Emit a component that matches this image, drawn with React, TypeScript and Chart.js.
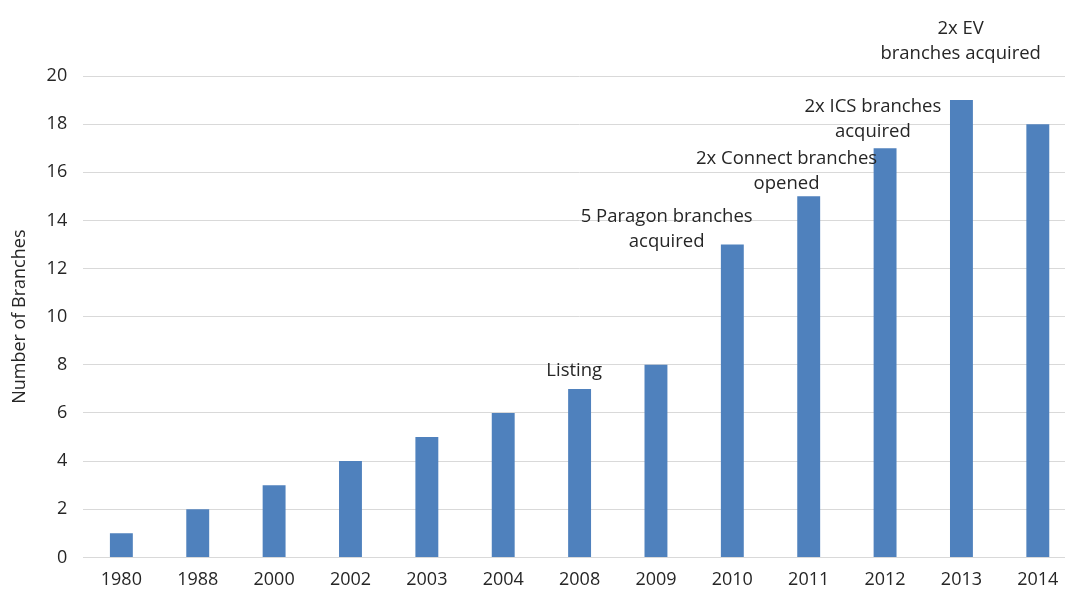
import React, { useEffect, useRef } from "react";
import { Chart, registerables } from "chart.js";

Chart.register(...registerables);

const categories = ["1980", "1988", "2000", "2002", "2003", "2004", "2008", "2009", "2010", "2011", "2012", "2013", "2014"];
const branchCounts = [1, 2, 3, 4, 5, 6, 7, 8, 13, 15, 17, 19, 18];
const yTicks = [0, 2, 4, 6, 8, 10, 12, 14, 16, 18, 20];

const annotationLines = [
  ["Listing"],
  ["5 Paragon branches", "acquired"],
  ["2x Connect branches", "opened"],
  ["2x ICS branches", "acquired"],
  ["2x EV", "branches acquired"],
];
// position in category-index units and value units (baseline of the last line)
const annotationX = [5.93, 7.14, 8.71, 9.84, 10.99];
const annotationY = [7.54, 12.88, 15.3, 17.46, 20.71];

const FONT = "'Open Sans', sans-serif";

const annotationPlugin = {
  id: "annotations",
  afterDatasetsDraw(chart: any) {
    const { ctx, scales } = chart;
    const xs = scales.x;
    const ys = scales.y;
    ctx.save();
    ctx.fillStyle = "#262626";
    ctx.font = `18.5px ${FONT}`;
    ctx.textAlign = "center";
    ctx.textBaseline = "alphabetic";
    annotationLines.forEach((lines, i) => {
      const x = xs.getPixelForValue(annotationX[i]);
      const yBase = ys.getPixelForValue(annotationY[i]);
      const n = lines.length;
      lines.forEach((line, j) => {
        ctx.fillText(line, x, yBase - (n - 1 - j) * 25);
      });
    });
    ctx.restore();
  },
};

export default function App() {
  const ref = useRef<HTMLCanvasElement | null>(null);
  useEffect(() => {
    document.body.style.margin = "0";
    const chart = new Chart(ref.current as HTMLCanvasElement, {
      type: "bar",
      data: {
        labels: categories,
        datasets: [
          {
            data: branchCounts,
            backgroundColor: "#4F81BD",
            borderWidth: 0,
            barPercentage: 0.3,
            categoryPercentage: 1,
          },
        ],
      },
      options: {
        responsive: false,
        animation: false,
        layout: { padding: { top: 76, left: 9, right: 0, bottom: 0 } },
        plugins: {
          legend: { display: false },
          tooltip: { enabled: false },
        },
        scales: {
          x: {
            grid: { display: false, drawTicks: false },
            border: { display: true, color: "#D9D9D9" },
            ticks: { color: "#262626", font: { family: FONT, size: 18 }, padding: 12, maxRotation: 0, autoSkip: false },
          },
          y: {
            min: 0,
            max: 20,
            afterBuildTicks: (axis: any) => {
              axis.ticks = yTicks.map((v) => ({ value: v }));
            },
            grid: { color: "#D9D9D9", drawTicks: false },
            border: { display: false },
            ticks: { color: "#262626", font: { family: FONT, size: 18 }, padding: 16 },
            title: {
              display: true,
              text: "Number of Branches",
              color: "#262626",
              font: { family: FONT, size: 18 },
              padding: { top: 0, bottom: 0 },
            },
          },
        },
      },
      plugins: [annotationPlugin],
    });
    return () => chart.destroy();
  }, []);
  return (
    <div style={{ position: "fixed", left: 0, top: 0, width: 1065, height: 592, overflow: "hidden", background: "#fff" }}>
      <canvas ref={ref} width={1076} height={603} style={{ display: "block" }} />
    </div>
  );
}
